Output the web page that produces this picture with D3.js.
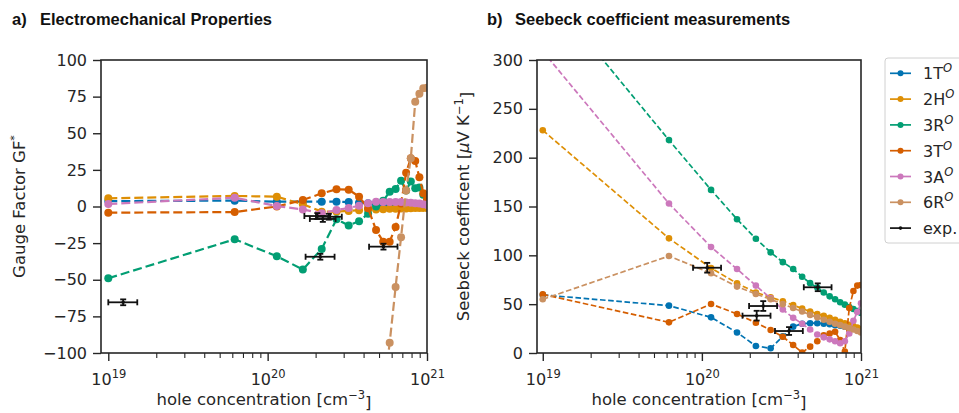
<!DOCTYPE html>
<html><head><meta charset="utf-8">
<script src="https://cdn.jsdelivr.net/npm/d3@7"></script>
<style>
body{margin:0;background:#fff;}
svg{display:block;font-family:"DejaVu Sans",sans-serif;}
</style></head><body>
<svg id="c" width="959" height="413"></svg>
<script>
// ---------------- DATA ----------------
const holeConc = [1.0e19, 6.21e19, 1.142e20, 1.663e20, 2.184e20, 2.705e20, 3.226e20, 3.747e20, 4.268e20, 4.789e20,
                  5.311e20, 5.832e20, 6.353e20, 6.874e20, 7.395e20, 7.916e20, 8.437e20, 8.958e20, 9.479e20, 1.0e21];
const seriesNames = ["1T", "2H", "3R", "3T", "3A", "6R"];
const seriesColors = ["#0173b2", "#de8f05", "#029e73", "#d55e00", "#cc78bc", "#ca9161"];

// a) Gauge factor GF*
const gf1T = [3.7, 4, 3.3, 3.3, 3.3, 3.3, 3, 2.6, 2.2, 1.8, 1.4, 1.1, 0.8, 0.5, 0.3, 0.1, 0, -0.2, -0.3, -0.5];
const gf2H = [5.6, 7.2, 6.7, 1.5, -3.5, -3.5, -3, -2.5, -2, -2, -1.8, -1.6, -1.5, -1.4, -1.3, -1.2, -1.1, -1, -1, -1];
const gf3R = [-49, -22.4, -34, -43, -29, -8.7, -13, -10, -5, 0, 4, 10, 12, 17.5, 11, 17, 12.4, 13, 8, 5];
const gf3T = [-4.2, -3.8, 0, 4.4, 9, 11.7, 11.5, 6.7, -1.2, -16, -24, -24, -14, 2, 23, 33, 31, 20, 9, 5];
const gf3A = [1.7, 6, 0.3, -2, -4.6, -2.4, -1, 0.5, 2.2, 3.3, 3, 3, 3, 3, 2.8, 2.5, 2.3, 2, 1.5, 1];
const gf6R = [-1500, -1200, -900, -700, -520, -400, -310, -240, -190, -160, -130, -93, -55, -21, 11, 33, 71.5, 77, 80.7, 81];

// b) Seebeck coefficient [µV/K]
const s1T = [59.5, 48.5, 36.5, 21, 7.2, 4.8, 17, 27, 30, 30.5, 30.5, 30, 29.5, 28.5, 28, 27, 26, 25, 24, 23];
const s2H = [228, 117.4, 87, 71.3, 62, 57, 53, 49, 45.5, 42.5, 40, 38, 36, 34, 32, 30.5, 29, 27.5, 26, 24.5];
const s3R = [375, 218, 167, 137, 117, 103, 93, 86, 78, 71.5, 67, 62, 58, 55, 52, 49.5, 47, 45, 43, 41];
const s3T = [60, 31.4, 50.2, 40, 31, 23.5, 16.7, 8.2, 0.5, 6.5, 12, 18, 20, 21.8, 13.3, 1.4, 46, 63.5, 69, 69.5];
const s3A = [309, 153, 108.5, 86, 69, 56, 44.5, 36, 30, 24, 19, 16, 14, 12, 10, 12, 20, 33, 42, 51];
const s6R = [55, 99.3, 81.6, 68, 60.4, 55, 50, 46, 42.5, 39, 36.5, 34, 32, 30, 28.5, 27, 25.5, 24, 22.5, 21];

// experiments
const gfExpX   = [1.24e19, 2.05e20, 2.22e20, 2.42e20, 2.14e20, 5.33e20];
const gfExpXlo = [1.0e19, 1.70e20, 1.84e20, 2.01e20, 1.73e20, 4.33e20];
const gfExpXhi = [1.52e19, 2.47e20, 2.67e20, 2.92e20, 2.63e20, 6.53e20];
const gfExpY   = [-65.4, -6.5, -8.5, -7, -34.3, -27.4];
const gfExpYerr= [2, 2, 2, 2, 2, 2];

const sExpX   = [1.08e20, 2.21e20, 2.43e20, 3.53e20, 5.35e20];
const sExpXlo = [0.88e20, 1.80e20, 1.98e20, 2.88e20, 4.37e20];
const sExpXhi = [1.32e20, 2.70e20, 2.97e20, 4.31e20, 6.53e20];
const sExpY   = [87.3, 38.2, 48.1, 22.5, 67.3];
const sExpYerr= [5, 5, 5, 4, 4];

const gfTicks = [100, 75, 50, 25, 0, -25, -50, -75, -100];
const sTicks = [0, 50, 100, 150, 200, 250, 300];
const xMajor = [1e19, 1e20, 1e21];
const xMajorExp = ["19", "20", "21"];

// ---------------- DRAW ----------------
const svg = d3.select("#c");
const TXT = "#262626";

function minorTicks(dom) {
  const out = [];
  for (let e = 18; e <= 21; e++) for (let m = 2; m <= 9; m++) {
    const v = m * Math.pow(10, e);
    if (v > dom[0] * 1.0001 && v < dom[1]) out.push(v);
  }
  return out;
}

function panel(cfg) {
  const x = d3.scaleLog().domain(cfg.xDomain).range([cfg.x0, cfg.x1]);
  const y = d3.scaleLinear().domain(cfg.yDomain).range([cfg.y1, cfg.y0]);
  const clipId = cfg.id + "clip";
  svg.append("clipPath").attr("id", clipId).append("rect")
    .attr("x", cfg.x0).attr("y", cfg.y0).attr("width", cfg.x1 - cfg.x0).attr("height", cfg.y1 - cfg.y0);

  // minor x ticks
  const gMin = svg.append("g").attr("transform", `translate(0,${cfg.y1})`).attr("color", TXT)
    .call(d3.axisBottom(x).tickValues(minorTicks(cfg.xDomain)).tickSize(5).tickFormat(""));
  gMin.select(".domain").remove();
  gMin.selectAll(".tick line").attr("stroke-width", 1.1);
  // major x ticks
  const gx = svg.append("g").attr("transform", `translate(0,${cfg.y1})`).attr("color", TXT)
    .call(d3.axisBottom(x).tickValues(xMajor).tickSize(8).tickPadding(6).tickFormat(""));
  gx.select(".domain").remove();
  gx.selectAll(".tick line").attr("stroke-width", 1.4);
  gx.selectAll(".tick text").each(function(d, i) {
    const t = d3.select(this).attr("font-size", 16).attr("fill", TXT).attr("font-family", "DejaVu Sans").attr("dy", "1.1em");
    t.append("tspan").text("10");
    t.append("tspan").attr("font-size", 11.5).attr("dy", "-0.55em").text(xMajorExp[i]);
  });
  // y ticks
  const gy = svg.append("g").attr("transform", `translate(${cfg.x0},0)`).attr("color", TXT)
    .call(d3.axisLeft(y).tickValues(cfg.yTicks).tickSize(8).tickPadding(6).tickFormat(d3.format("d")));
  gy.select(".domain").remove();
  gy.selectAll(".tick line").attr("stroke-width", 1.4);
  gy.selectAll(".tick text").attr("font-size", 16).attr("fill", TXT).attr("font-family", "DejaVu Sans");

  // series
  const plot = svg.append("g").attr("clip-path", `url(#${clipId})`);
  const line = d3.line().x(d => x(d[0])).y(d => y(d[1]));
  cfg.series.forEach((vals, si) => {
    const pts = holeConc.map((c, i) => [c, vals[i]]);
    plot.append("path").datum(pts).attr("d", line).attr("fill", "none")
      .attr("stroke", seriesColors[si]).attr("stroke-width", cfg.lw).attr("stroke-dasharray", cfg.dash);
    plot.selectAll(null).data(pts).enter().append("circle")
      .attr("cx", d => x(d[0])).attr("cy", d => y(d[1])).attr("r", cfg.r).attr("fill", seriesColors[si]);
  });
  // experiments
  const ex = cfg.exp;
  ex.x.forEach((xv, i) => {
    const cx = x(xv), cy = y(ex.y[i]);
    const xl = x(ex.xlo[i]), xh = x(ex.xhi[i]);
    const yl = y(ex.y[i] - ex.yerr[i]), yh = y(ex.y[i] + ex.yerr[i]);
    const g = plot.append("g").attr("stroke", "#111").attr("stroke-width", 1.8);
    g.append("line").attr("x1", xl).attr("x2", xh).attr("y1", cy).attr("y2", cy);
    g.append("line").attr("x1", cx).attr("x2", cx).attr("y1", yl).attr("y2", yh);
    g.append("line").attr("x1", xl).attr("x2", xl).attr("y1", cy - 3).attr("y2", cy + 3);
    g.append("line").attr("x1", xh).attr("x2", xh).attr("y1", cy - 3).attr("y2", cy + 3);
    g.append("line").attr("x1", cx - 3).attr("x2", cx + 3).attr("y1", yl).attr("y2", yl);
    g.append("line").attr("x1", cx - 3).attr("x2", cx + 3).attr("y1", yh).attr("y2", yh);
    plot.append("circle").attr("cx", cx).attr("cy", cy).attr("r", 1.8).attr("fill", "#111");
  });

  // frame
  svg.append("rect").attr("x", cfg.x0).attr("y", cfg.y0).attr("width", cfg.x1 - cfg.x0).attr("height", cfg.y1 - cfg.y0)
    .attr("fill", "none").attr("stroke", TXT).attr("stroke-width", 1.6);

  // x label
  const xl = svg.append("text").attr("x", (cfg.x0 + cfg.x1) / 2).attr("y", 405).attr("text-anchor", "middle")
    .attr("font-size", 16.5).attr("fill", TXT);
  xl.append("tspan").text("hole concentration [cm");
  xl.append("tspan").attr("font-size", 11.5).attr("dy", "-0.5em").text("\u22123");
  xl.append("tspan").attr("dy", "0.5em").text("]");
  // y label
  const yl = svg.append("text").attr("transform", `translate(${cfg.ylx},${(cfg.y0 + cfg.y1) / 2}) rotate(-90)`)
    .attr("text-anchor", "middle").attr("font-size", 16.5).attr("fill", TXT);
  cfg.ylabel(yl);
  // title
  const tt = svg.append("text").attr("x", cfg.tx).attr("y", 25).attr("font-family", "'Liberation Sans Narrow','Liberation Sans',Arial,sans-serif")
    .attr("font-weight", "bold").attr("font-size", 16.5).attr("fill", "#111");
  tt.append("tspan").text(cfg.tlabel);
  tt.append("tspan").attr("x", cfg.tx + 28).text(cfg.title);
}

panel({
  id: "a", x0: 101, x1: 427, y0: 60, y1: 353, xDomain: [9.0e18, 1.0e21], yDomain: [-100, 100], yTicks: gfTicks,
  series: [gf1T, gf2H, gf3R, gf3T, gf3A, gf6R], lw: 2.2, dash: "9,4", r: 4,
  exp: { x: gfExpX, xlo: gfExpXlo, xhi: gfExpXhi, y: gfExpY, yerr: gfExpYerr },
  ylx: 25, ylabel: t => { t.append("tspan").text("Gauge Factor GF"); t.append("tspan").attr("font-size", 11).attr("dy", "-0.6em").text("*"); },
  tx: 12, tlabel: "a)", title: "Electromechanical Properties"
});
panel({
  id: "b", x0: 537, x1: 861, y0: 60, y1: 353, xDomain: [9.2e18, 1.0e21], yDomain: [0, 300], yTicks: sTicks,
  series: [s1T, s2H, s3R, s3T, s3A, s6R], lw: 1.7, dash: "5.6,2.6", r: 3.3,
  exp: { x: sExpX, xlo: sExpXlo, xhi: sExpXhi, y: sExpY, yerr: sExpYerr },
  ylx: 469, ylabel: t => {
    t.append("tspan").text("Seebeck coefficent [");
    t.append("tspan").attr("font-style", "italic").text("\u03bc");
    t.append("tspan").text("V K");
    t.append("tspan").attr("font-size", 11.5).attr("dy", "-0.5em").text("\u22121");
    t.append("tspan").attr("dy", "0.5em").text("]");
  },
  tx: 487, tlabel: "b)", title: "Seebeck coefficient measurements"
});

// legend
const leg = svg.append("g");
leg.append("rect").attr("x", 885).attr("y", 58).attr("width", 100).attr("height", 185).attr("rx", 3)
  .attr("fill", "#fff").attr("stroke", "#d0d0d0").attr("stroke-width", 1);
const legNames = seriesNames.concat(["exp."]);
const legColors = seriesColors.concat(["#111"]);
legNames.forEach((n, i) => {
  const yy = 73.3 + i * 25.8;
  leg.append("line").attr("x1", 890).attr("x2", 911).attr("y1", yy).attr("y2", yy)
    .attr("stroke", legColors[i]).attr("stroke-width", 1.7);
  leg.append("circle").attr("cx", 900.5).attr("cy", yy).attr("r", i < 6 ? 3 : 1.8).attr("fill", legColors[i]);
  const t = leg.append("text").attr("x", 923).attr("y", yy + 6).attr("font-size", 16).attr("fill", TXT);
  t.append("tspan").text(n);
  if (i < 6) t.append("tspan").attr("font-size", 11.5).attr("font-style", "italic").attr("dy", "-0.6em").text("O");
});
</script>
</body></html>
